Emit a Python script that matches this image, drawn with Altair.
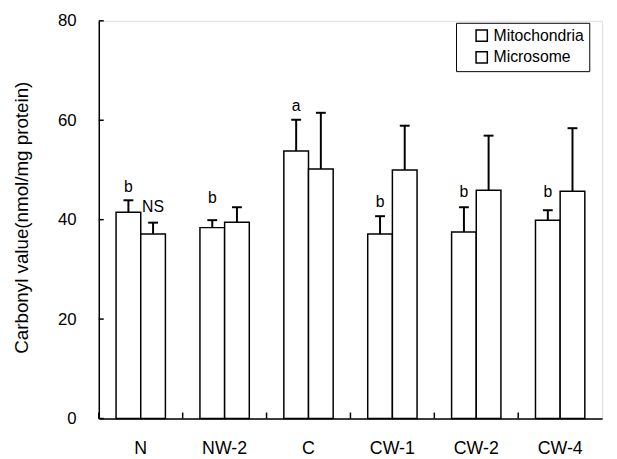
import altair as alt
import pandas as pd

groups = ["N", "NW-2", "C", "CW-1", "CW-2", "CW-4"]
series = ["Mitochondria", "Microsome"]
mito = [41.5, 38.4, 53.8, 37.1, 37.5, 39.9]
mito_err = [2.4, 1.5, 6.3, 3.6, 5.0, 2.0]
micro = [37.1, 39.5, 50.2, 50.0, 45.9, 45.7]
micro_err = [2.3, 3.0, 11.3, 8.9, 11.0, 12.7]

ann_group = ["N", "N", "NW-2", "C", "CW-1", "CW-2", "CW-4"]
ann_series = ["Mitochondria", "Microsome", "Mitochondria", "Mitochondria",
              "Mitochondria", "Mitochondria", "Mitochondria"]
ann_text = ["b", "NS", "b", "a", "b", "b", "b"]
ann_y = [45.5, 41.5, 43.3, 61.9, 42.5, 44.5, 44.5]

y_ticks = [0, 20, 40, 60, 80]
y_title = "Carbonyl value(nmol/mg protein)"

FONT = "Liberation Sans"

rows = []
for g, v, e in zip(groups, mito, mito_err):
    rows.append({"group": g, "series": "Mitochondria", "value": v, "top": v + e})
for g, v, e in zip(groups, micro, micro_err):
    rows.append({"group": g, "series": "Microsome", "value": v, "top": v + e})
df = pd.DataFrame(rows)

ann = pd.DataFrame({"group": ann_group, "series": ann_series, "text": ann_text, "y": ann_y})
ticks_df = pd.DataFrame({"t": y_ticks})
grp_df = pd.DataFrame({"group": groups})

xscale = alt.Scale(paddingInner=0, paddingOuter=0)
x_enc = alt.X("group:N", sort=groups, scale=xscale,
              axis=alt.Axis(title=None, labelAngle=0, ticks=False, tickSize=0,
                            labelPadding=21, labelFontSize=18, labelFont=FONT,
                            labelColor="black", domainColor="black", domainWidth=1.5,
                            grid=False))
xoff = alt.XOffset("series:N", sort=series,
                   scale=alt.Scale(domain=series, paddingOuter=0.7, paddingInner=0))
yscale = alt.Scale(domain=[0, 80], nice=False)

bars = alt.Chart(df).mark_bar(stroke="black", strokeWidth=1.5).encode(
    x=x_enc,
    xOffset=xoff,
    y=alt.Y("value:Q", scale=yscale,
            axis=alt.Axis(values=y_ticks, title=y_title, titleFontSize=19,
                          titleFont=FONT, titleFontWeight="normal", titleColor="black",
                          ticks=False, tickSize=0, labelPadding=23, labelFontSize=17,
                          labelFont=FONT, labelColor="black", grid=False,
                          domainColor="black", domainWidth=1.5,
                          titleX=-78, titleY=199, titleAngle=270,
                          titleAlign="center", titleBaseline="middle")),
    fill=alt.Fill("series:N", sort=series,
                  scale=alt.Scale(domain=series, range=["white", "white"]),
                  legend=alt.Legend(title=None, orient="none", legendX=362, legendY=2,
                                    direction="vertical", symbolType="square",
                                    symbolSize=130, symbolStrokeColor="black",
                                    symbolStrokeWidth=1.5, labelFontSize=16,
                                    labelFont=FONT, labelColor="black",
                                    strokeColor="black", fillColor="white",
                                    padding=5, rowPadding=4, symbolOffset=13,
                                    labelOffset=4)),
)

err = alt.Chart(df).mark_rule(color="black", strokeWidth=2).encode(
    x=alt.X("group:N", sort=groups),
    xOffset=xoff,
    y=alt.Y("value:Q"),
    y2="top:Q",
)

caps = alt.Chart(df).mark_tick(color="black", thickness=2, size=10, opacity=1).encode(
    x=alt.X("group:N", sort=groups),
    xOffset=xoff,
    y=alt.Y("top:Q"),
)

labels = alt.Chart(ann).mark_text(baseline="alphabetic", fontSize=16, font=FONT,
                                  color="black").encode(
    x=alt.X("group:N", sort=groups),
    xOffset=xoff,
    y=alt.Y("y:Q"),
    text="text:N",
)

yt = alt.Chart(ticks_df).mark_rule(color="black", strokeWidth=1.5).encode(
    y=alt.Y("t:Q"),
    x=alt.value(0),
    x2=alt.value(5),
)

xt = alt.Chart(grp_df).mark_rule(color="black", strokeWidth=1.5).encode(
    x=alt.X("group:N", sort=groups, bandPosition=0),
    y=alt.datum(0),
    y2=alt.datum(1.2),
)

chart = alt.layer(bars, err, caps, labels, yt, xt).properties(
    width=510, height=403,
    autosize=alt.AutoSizeParams(type="none"),
    padding={"left": 92, "top": 10, "right": 7, "bottom": 36},
).configure_view(strokeWidth=0).configure(background="white")

chart.save("out.html", embed_options={"renderer": "svg", "actions": False})
